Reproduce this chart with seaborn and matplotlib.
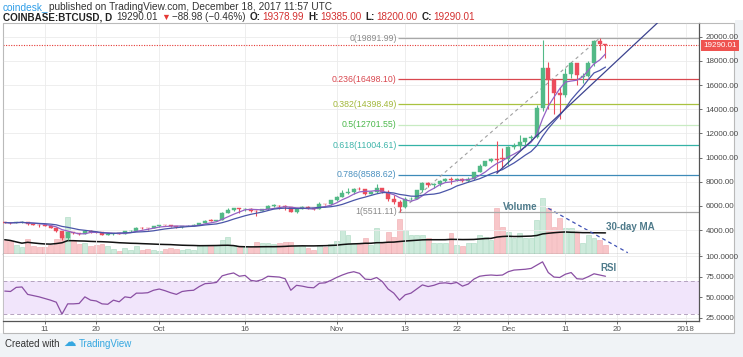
import numpy as np
import pandas as pd
import matplotlib
matplotlib.use("Agg")
import matplotlib.pyplot as plt
import matplotlib.transforms as mtrans
from matplotlib.patches import Rectangle
import seaborn as sns

# ---------------- data ----------------
dates = pd.date_range("2017-09-04", "2017-12-18", freq="D")

opens = [4650, 4620, 4560, 4660, 4680, 4470, 4440, 4390, 4360, 4200,
         3900, 3310, 3800, 3720, 3680, 3950, 3840, 3820, 3620, 3640,
         3760, 3690, 3890, 3910, 4180, 4160, 4150, 4330, 4400, 4390,
         4310, 4220, 4320, 4370, 4440, 4610, 4780, 4760, 4830, 5440,
         5650, 5830, 5700, 5760, 5600, 5570, 5700, 6010, 6020, 5990,
         5900, 5520, 5730, 5890, 5780, 5750, 6150, 6120, 6450, 6760,
         7060, 7170, 7400, 7390, 6990, 7110, 7460, 7150, 6580, 6340,
         5870, 6530, 6600, 7300, 7850, 7700, 7790, 8040, 8250, 8100,
         8250, 8030, 8220, 8760, 9300, 9720, 9900, 9950, 9880, 10870,
         10930, 11250, 11600, 11680, 14100, 17400, 16450, 15350, 15150, 16900,
         17800, 16700, 16750, 17800, 19630, 19378.99]
highs = [4700, 4660, 4700, 4720, 4700, 4520, 4480, 4450, 4400, 4220,
         3950, 3860, 3850, 3760, 4000, 3970, 3880, 3830, 3720, 3780,
         3770, 3930, 3970, 4210, 4250, 4180, 4360, 4410, 4450, 4420,
         4330, 4350, 4400, 4460, 4620, 4800, 4900, 4860, 5450, 5860,
         5850, 5860, 5800, 5780, 5620, 5720, 6070, 6190, 6080, 6050,
         5910, 5760, 5980, 6000, 5860, 6300, 6190, 6470, 6780, 7350,
         7460, 7480, 7600, 7410, 7220, 7840, 7480, 7300, 6860, 6520,
         6750, 6700, 7330, 7970, 8000, 7850, 8100, 8300, 8370, 8300,
         8270, 8350, 8780, 9480, 9740, 9990, 11400, 10800, 10950, 11200,
         11850, 11620, 11900, 14380, 19697, 17900, 16500, 15800, 17400, 17900,
         17850, 17000, 17990, 19700, 19891.99, 19385.00]
lows = [4560, 4500, 4540, 4600, 4420, 4380, 4230, 4300, 4150, 3830,
        3200, 3150, 3680, 3580, 3670, 3780, 3780, 3580, 3550, 3600,
        3660, 3680, 3870, 3880, 4100, 4000, 4140, 4280, 4370, 4270,
        4200, 4200, 4300, 4320, 4430, 4550, 4730, 4740, 4820, 5380,
        5560, 5440, 5600, 5500, 5150, 5560, 5630, 5870, 5700, 5650,
        5450, 5380, 5700, 5720, 5680, 5720, 6040, 6090, 6390, 6740,
        7000, 6990, 7320, 6930, 6950, 7040, 7040, 6400, 6180, 5511.11,
        5860, 6460, 6600, 7140, 7560, 7480, 7670, 7960, 7800, 8090,
        8000, 7950, 8160, 8760, 9300, 9620, 8700, 9100, 9400, 10700,
        10600, 10900, 11470, 11650, 13850, 14000, 13600, 13200, 15050, 16600,
        16000, 16200, 16700, 17600, 18930, 18200.00]
closes = [4620, 4560, 4660, 4680, 4470, 4440, 4390, 4360, 4200, 3900,
          3310, 3800, 3720, 3680, 3950, 3840, 3820, 3620, 3640, 3760,
          3690, 3900, 3910, 4180, 4160, 4150, 4330, 4400, 4390, 4310,
          4220, 4320, 4370, 4440, 4610, 4780, 4760, 4830, 5440, 5650,
          5830, 5700, 5760, 5600, 5570, 5700, 6010, 6020, 5990, 5900,
          5520, 5730, 5890, 5780, 5750, 6150, 6120, 6450, 6760, 7060,
          7170, 7400, 7390, 6990, 7110, 7460, 7150, 6580, 6340, 5870,
          6530, 6600, 7300, 7850, 7700, 7790, 8040, 8250, 8100, 8250,
          8030, 8220, 8760, 9300, 9720, 9900, 9830, 9880, 10870, 10930,
          11250, 11600, 11680, 14100, 17400, 16450, 15350, 15150, 16900, 17800,
          16800, 16750, 17800, 19630, 19400, 19290.01]
volume_k = [14.3, 12.7, 9.3, 7.0, 15.3, 7.7, 7.0, 7.0, 8.7, 15.3,
            19.3, 36.7, 12.7, 10.0, 11.0, 7.7, 9.3, 10.0, 7.7, 5.3,
            2.7, 6.0, 4.3, 7.7, 4.3, 5.0, 3.7, 3.3, 5.0, 5.7,
            4.7, 4.0, 4.7, 4.0, 9.0, 9.0, 9.0, 9.0, 14.0, 17.3,
            9.0, 7.3, 7.3, 7.3, 11.7, 10.7, 10.7, 10.0, 10.7, 11.7,
            12.3, 9.0, 8.3, 5.7, 4.0, 9.0, 6.7, 10.0, 13.3, 24.0,
            19.0, 10.7, 10.7, 15.7, 9.0, 25.7, 10.7, 22.3, 17.3, 34.7,
            24.0, 19.0, 19.0, 19.0, 15.7, 10.7, 10.7, 10.7, 21.3, 9.0,
            8.0, 10.7, 10.7, 19.0, 17.3, 14.0, 45.7, 27.3, 22.3, 15.7,
            20.7, 15.7, 15.7, 34.0, 55.7, 45.7, 27.3, 35.7, 25.7, 25.7,
            20.7, 10.7, 19.0, 15.7, 14.0, 9.0]
rsi_values = [57.5, 57, 62, 62.5, 53.5, 52, 50.5, 48.5, 46.5, 44,
              29.5, 42, 42, 42.5, 50.5, 46.5, 45.5, 42, 41.5, 46.5,
              44.5, 50.5, 49.5, 55, 55, 55.5, 58.5, 60, 58, 55.5,
              53.5, 57, 58, 58.5, 63, 66.5, 67, 68, 76, 78,
              79.5, 75.5, 76.5, 70.5, 69.5, 71.5, 75.5, 75, 74.5, 72.5,
              58.5, 64.5, 63.5, 62, 61.5, 67, 67.5, 70.5, 74, 77,
              79.5, 81, 79, 72, 71.5, 74, 69, 60, 55, 46.5,
              53, 55, 60, 65, 63, 64.5, 67, 67.5, 66.5, 68,
              63.5, 66, 72, 75.5, 76.5, 77, 76.5, 77, 81, 83,
              83.5, 84, 85, 89, 93, 80, 74.5, 74, 78, 80,
              72.5, 72, 75, 78.5, 77, 75.5]

price_ticks = [4000, 6000, 8000, 10000, 12000, 14000, 16000, 18000, 20000]
rsi_ticks = [25, 50, 75, 100]
xtick_dates = ["2017-09-11", "2017-09-20", "2017-10-01", "2017-10-16", "2017-11-01",
               "2017-11-13", "2017-11-22", "2017-12-01", "2017-12-11", "2017-12-20", "2018-01-01"]
xtick_labels = ["11", "20", "Oct", "16", "Nov", "13", "22", "Dec", "11", "20", "2018"]
fib_ratios = [0, 0.236, 0.382, 0.5, 0.618, 0.786, 1]
fib_high, fib_high_date = 19891.99, "2017-12-17"
fib_low, fib_low_date = 5511.11, "2017-11-12"
last_price = 19290.01
trend_points = [("2017-11-29", 8700), ("2017-12-10", 13573)]

# ---------------- styling ----------------
UP, DN = "#53b987", "#eb4d5c"
VUP, VDN = "#cdeadb", "#f8c6c9"
LABEL_C = "#4f7b8b"
fib_line_colors = ["#a8a8a8", "#d9474f", "#a9c23f", "#c8ebc2", "#34b2a6", "#3d8ab8", "#a8a8a8"]
fib_text_colors = ["#8a8a8a", "#d9474f", "#a2b83a", "#4cb84c", "#3fb5aa", "#4a90bf", "#8a8a8a"]

sns.set_theme(style="white")
plt.rcParams["font.family"] = ["Liberation Sans", "DejaVu Sans"]

W, H = 743, 357
def fx(px):
    return px / W
def fy(py):
    return 1 - py / H

fig = plt.figure(figsize=(W / 100, H / 100), dpi=100)
fig.patch.set_facecolor("white")
fig.patches.append(Rectangle((0, 0), 1, fy(333), transform=fig.transFigure,
                             fc="#f0f3f6", ec="none", zorder=-10))
fig.patches.append(Rectangle((fx(735), 0), 1 - fx(735), fy(20), transform=fig.transFigure,
                             fc="#f0f3f6", ec="none", zorder=-10))
fig.patches.append(Rectangle((fx(3), fy(333)), fx(734) - fx(3), fy(23) - fy(333),
                             transform=fig.transFigure, fc="white", ec="#b9b9b9", lw=0.8, zorder=-5))

ax = fig.add_axes([fx(3), fy(254), fx(699.3) - fx(3), fy(23) - fy(254)])
axr = fig.add_axes([fx(3), fy(321), fx(699.3) - fx(3), fy(254) - fy(321)], sharex=ax)
axv = ax.twinx()
axv.set_zorder(ax.get_zorder() - 1)
ax.patch.set_visible(False)

idx = np.arange(len(dates))
t0 = dates[0]
def day(d):
    return (pd.Timestamp(d) - t0).days

o = np.array(opens, float); c = np.array(closes, float)
hi = np.array(highs, float); lo = np.array(lows, float)
vol = np.array(volume_k, float)
up = c >= o
col = np.where(up, UP, DN)

xmin, xmax = -0.31, 121.4

# grid
xt = [day(d) for d in xtick_dates]
for a in (ax, axr):
    for x in xt:
        a.axvline(x, color="#ebebeb", lw=0.6, zorder=0)
for p in price_ticks:
    ax.axhline(p, color="#ebebeb", lw=0.6, zorder=0)
for r in rsi_ticks:
    axr.axhline(r, color="#ebebeb", lw=0.6, zorder=0)

# volume
dfv = pd.DataFrame({"i": idx, "vol": vol, "dir": np.where(up, "up", "down")})
sns.barplot(data=dfv, x="i", y="vol", hue="dir", palette={"up": VUP, "down": VDN},
            native_scale=True, dodge=False, width=0.85, errorbar=None, legend=False,
            saturation=1, ax=axv)
for patch in axv.patches:
    fc = matplotlib.colors.to_hex(patch.get_facecolor())
    patch.set_edgecolor("#a9d9c0" if fc == VUP else "#efa9ae")
    patch.set_linewidth(0.4)
vma = pd.Series(vol).rolling(30, min_periods=1).mean()
sns.lineplot(x=idx, y=vma.values, ax=axv, color="#111111", lw=1.1)
# volume down-trend annotation
i95 = day("2017-12-08")
axv.plot([i95, day("2017-12-21") + 0.9], [vol[i95], 1.3], color="#3f51b5",
         ls=(0, (3, 2.5)), lw=0.9)
axv.set_ylim(0, 231)
axv.set_xlabel(""); axv.set_ylabel("")
axv.yaxis.set_visible(False)
for s in axv.spines.values():
    s.set_visible(False)

# fib levels
i_low, i_high = day(fib_low_date), day(fib_high_date)
for r, lc, tc in zip(fib_ratios, fib_line_colors, fib_text_colors):
    lvl = fib_high - r * (fib_high - fib_low)
    ax.hlines(lvl, i_low - 0.2, xmax, colors=lc, lw=0.9, zorder=1)
    ax.text(i_low - 0.5, lvl, f"{r:g}({lvl:.2f})", ha="right", va="center",
            fontsize=6.3, color=tc, zorder=5)
ax.plot([i_low, i_high], [fib_low, fib_high], color="#a0a0a0", ls=(0, (3, 3)), lw=0.8, zorder=2)

# current price line
ax.axhline(last_price, color="#e53935", ls=(0, (1, 1.3)), lw=0.8, zorder=2)

# candles
ax.vlines(idx, lo, hi, colors=col, lw=0.8, zorder=3)
body_bot = np.minimum(o, c)
body_h = np.maximum(np.abs(c - o), 30)
ax.bar(idx, body_h, bottom=body_bot, width=0.7, color=col, edgecolor=col, lw=0.3, zorder=4)

# moving averages
ma5 = pd.Series(c).rolling(5, min_periods=1).mean()
ma10 = pd.Series(c).rolling(10, min_periods=1).mean()
sns.lineplot(x=idx, y=ma5.values, ax=ax, color="#9462c4", lw=0.9, zorder=5)
sns.lineplot(x=idx, y=ma10.values, ax=ax, color="#4a55a8", lw=0.9, zorder=5)

# trend line
(d1, p1), (d2, p2) = trend_points
slope = (p2 - p1) / (day(d2) - day(d1))
ax.plot([day(d1), xmax + 5], [p1, p1 + slope * (xmax + 5 - day(d1))], color="#3c438f", lw=0.9, zorder=5)

ax.set_xlim(xmin, xmax)
ax.set_ylim(2013.5, 21134)
ax.set_xlabel(""); ax.set_ylabel("")
ax.yaxis.tick_right()
ax.set_yticks(price_ticks)
ax.set_yticklabels([f"{v:.2f}" for v in price_ticks])
ax.tick_params(axis="y", labelsize=5.8, labelcolor="#4a4a4a", color="#555555",
               length=2.5, width=0.6, pad=2, right=True, left=False)
ax.tick_params(axis="x", bottom=False, labelbottom=False)
for name, s in ax.spines.items():
    s.set_color("#555555" if name in ("right", "bottom") else "#bbbbbb")
    s.set_linewidth(0.9 if name in ("right", "bottom") else 0.6)

# price label
bt = mtrans.blended_transform_factory(ax.transAxes, ax.transData)
ax.text(1.0 + 4 / 696, last_price, f"{last_price:.2f}", transform=bt, ha="left", va="center",
        fontsize=5.8, color="white", zorder=10, clip_on=False,
        bbox=dict(boxstyle="square,pad=0.25", fc="#ef5350", ec="none"))

# annotations
fig.text(fx(503), fy(207), "Volume", fontsize=7, fontweight="bold", color=LABEL_C, va="center", ha="left")
fig.text(fx(606), fy(227), "30-day MA", fontsize=7, fontweight="bold", color=LABEL_C, va="center", ha="left")
fig.text(fx(600), fy(268), "RSI", fontsize=7, fontweight="bold", color=LABEL_C, va="center", ha="left")

# RSI pane
axr.axhspan(30, 70, color="#f1e5fb", zorder=0, lw=0)
axr.axhline(70, color="#b4a2bf", ls=(0, (4, 3)), lw=0.7, zorder=1)
axr.axhline(30, color="#b4a2bf", ls=(0, (4, 3)), lw=0.7, zorder=1)
sns.lineplot(x=idx, y=rsi_values, ax=axr, color="#8a4fa3", lw=0.9, zorder=3)
axr.set_ylim(21.2, 102.5)
axr.set_xlim(xmin, xmax)
axr.set_xlabel(""); axr.set_ylabel("")
axr.yaxis.tick_right()
axr.set_yticks(rsi_ticks)
axr.set_yticklabels([f"{v:.4f}" for v in rsi_ticks])
axr.tick_params(axis="y", labelsize=5.8, labelcolor="#4a4a4a", color="#555555",
                length=2.5, width=0.6, pad=2, right=True, left=False)
axr.set_xticks(xt)
axr.set_xticklabels(xtick_labels)
axr.tick_params(axis="x", labelsize=5.8, labelcolor="#555555", color="#555555",
                length=2, width=0.6, pad=1.5, bottom=True)
for name, s in axr.spines.items():
    if name == "top":
        s.set_visible(False)
    else:
        s.set_color("#555555" if name in ("right", "bottom") else "#bbbbbb")
        s.set_linewidth(0.9 if name in ("right", "bottom") else 0.6)

# header texts (chained)
def chain(pieces, x_px, y_px):
    prev = None
    for txt, color, weight, size, gap in pieces:
        if prev is None:
            prev = fig.text(fx(x_px), fy(y_px), txt, color=color, fontweight=weight,
                            fontsize=size, ha="left", va="bottom")
        else:
            prev = ax.annotate(txt, xy=(1, 0), xycoords=prev, xytext=(gap, 0),
                               textcoords="offset points", color=color, fontweight=weight,
                               fontsize=size, ha="left", va="bottom", annotation_clip=False)
    return prev

DK, RD = "#333333", "#d32f2f"
chain([("coindesk_", "#2f9ee8", "normal", 7.3, 0),
       ("published on TradingView.com, December 18, 2017 11:57 UTC", DK, "normal", 7.3, 0.5)], 3, 12)
chain([("COINBASE:BTCUSD, D", "#222222", "bold", 7.1, 0),
       ("19290.01", DK, "normal", 7.1, 3),
       ("▼", "#e53935", "normal", 6.5, 2),
       ("−88.98 (−0.46%)", DK, "normal", 7.1, 2),
       ("O:", "#222222", "bold", 7.1, 3),
       ("19378.99", RD, "normal", 7.1, 1),
       ("H:", "#222222", "bold", 7.1, 3),
       ("19385.00", RD, "normal", 7.1, 1),
       ("L:", "#222222", "bold", 7.1, 3),
       ("18200.00", RD, "normal", 7.1, 1),
       ("C:", "#222222", "bold", 7.1, 3),
       ("19290.01", RD, "normal", 7.1, 1)], 3, 22)

# footer
chain([("Created with", "#333333", "normal", 7, 0),
       ("☁", "#35a7e0", "normal", 9, 3),
       ("TradingView", "#35a7e0", "normal", 7, 2)], 5, 349)

fig.savefig("out.png", dpi=100)
